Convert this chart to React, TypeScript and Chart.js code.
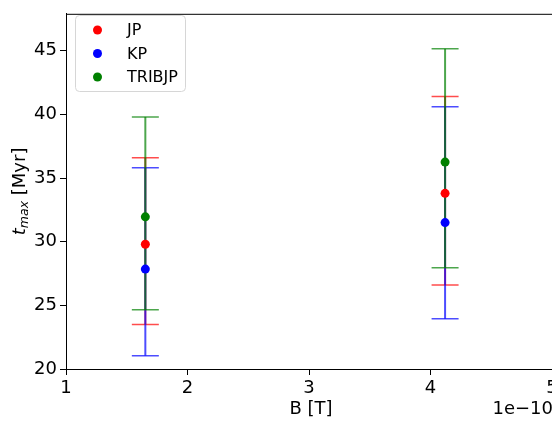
import React, { useEffect, useRef } from "react";
import { Chart, registerables } from "chart.js";

Chart.register(...registerables);

const seriesNames = ["JP", "KP", "TRIBJP"];
const seriesColors = ["rgb(255,0,0)", "rgb(0,0,255)", "rgb(0,128,0)"];
const barColors = ["rgba(255,0,0,0.7)", "rgba(0,0,255,0.7)", "rgba(0,128,0,0.7)"];
const bValues = [1.653e-10, 4.12e-10];
const jpValues = [29.8, 33.8];
const jpLow = [23.5, 26.6];
const jpHigh = [36.6, 41.4];
const kpValues = [27.85, 31.5];
const kpLow = [21.05, 23.95];
const kpHigh = [35.8, 40.6];
const tribValues = [31.95, 36.25];
const tribLow = [24.65, 27.95];
const tribHigh = [39.8, 45.15];
const xTicks = [1e-10, 2e-10, 3e-10, 4e-10, 5e-10];
const yTicks = [20, 25, 30, 35, 40, 45];

const allValues = [jpValues, kpValues, tribValues];
const allLow = [jpLow, kpLow, tribLow];
const allHigh = [jpHigh, kpHigh, tribHigh];

const FONT = "'DejaVu Sans', sans-serif";

export default function App() {
  const ref = useRef<HTMLCanvasElement | null>(null);
  useEffect(() => {
    if (!ref.current) return;
    const errorBars = {
      id: "errorBars",
      beforeDatasetsDraw(chart: any) {
        const ctx = chart.ctx;
        const xs = chart.scales.x;
        const ys = chart.scales.y;
        ctx.save();
        for (let i = 0; i < allValues.length; i++) {
          ctx.strokeStyle = barColors[i];
          for (let j = 0; j < bValues.length; j++) {
            const px = xs.getPixelForValue(bValues[j]);
            const lo = ys.getPixelForValue(allLow[i][j]);
            const hi = ys.getPixelForValue(allHigh[i][j]);
            ctx.lineWidth = 2;
            ctx.beginPath();
            ctx.moveTo(px, lo);
            ctx.lineTo(px, hi);
            ctx.stroke();
            ctx.lineWidth = 1.5;
            ctx.beginPath();
            ctx.moveTo(px - 13.5, lo);
            ctx.lineTo(px + 13.5, lo);
            ctx.moveTo(px - 13.5, hi);
            ctx.lineTo(px + 13.5, hi);
            ctx.stroke();
          }
        }
        ctx.restore();
      },
      afterDraw(chart: any) {
        const ctx = chart.ctx;
        const a = chart.chartArea;
        ctx.save();
        // frame
        ctx.strokeStyle = "#000";
        ctx.lineWidth = 1;
        ctx.strokeRect(a.left + 0.5, a.top + 0.5, a.right - a.left, a.bottom - a.top);
        // legend
        const lx = 75.5, ly = 15.5, lw = 110, lh = 76, r = 4;
        ctx.beginPath();
        ctx.moveTo(lx + r, ly);
        ctx.arcTo(lx + lw, ly, lx + lw, ly + lh, r);
        ctx.arcTo(lx + lw, ly + lh, lx, ly + lh, r);
        ctx.arcTo(lx, ly + lh, lx, ly, r);
        ctx.arcTo(lx, ly, lx + lw, ly, r);
        ctx.closePath();
        ctx.fillStyle = "rgba(255,255,255,0.8)";
        ctx.fill();
        ctx.strokeStyle = "#d6d6d6";
        ctx.stroke();
        const rows = [30, 53.5, 77];
        ctx.font = "16px " + FONT;
        ctx.textBaseline = "middle";
        ctx.textAlign = "left";
        for (let i = 0; i < seriesNames.length; i++) {
          ctx.fillStyle = seriesColors[i];
          ctx.beginPath();
          ctx.arc(97.5, rows[i], 4.5, 0, Math.PI * 2);
          ctx.fill();
          ctx.fillStyle = "#000";
          ctx.fillText(seriesNames[i], 127, rows[i] + 1);
        }
        // x title
        ctx.font = "18px " + FONT;
        ctx.textAlign = "center";
        ctx.textBaseline = "middle";
        ctx.fillText("B [T]", 311, 409);
        // offset text
        ctx.textAlign = "right";
        ctx.fillText("1e\u221210", 553, 409);
        // y title
        ctx.translate(19, (a.top + a.bottom) / 2);
        ctx.rotate(-Math.PI / 2);
        ctx.textBaseline = "alphabetic";
        ctx.textAlign = "left";
        const big = "italic 18px " + FONT;
        const small = "italic 12.5px " + FONT;
        const norm = "18px " + FONT;
        ctx.font = big;
        const w1 = ctx.measureText("t").width;
        ctx.font = small;
        const w2 = ctx.measureText("max").width;
        ctx.font = norm;
        const w3 = ctx.measureText(" [Myr]").width;
        let x0 = -(w1 + w2 + w3) / 2;
        const base = 6;
        ctx.font = big;
        ctx.fillText("t", x0, base);
        x0 += w1;
        ctx.font = small;
        ctx.fillText("max", x0, base + 3);
        x0 += w2;
        ctx.font = norm;
        ctx.fillText(" [Myr]", x0, base);
        ctx.restore();
      },
    };

    const chart = new Chart(ref.current, {
      type: "scatter",
      data: {
        datasets: seriesNames.map((name, i) => ({
          label: name,
          data: bValues.map((b, j) => ({ x: b, y: allValues[i][j] })),
          backgroundColor: seriesColors[i],
          borderColor: seriesColors[i],
          pointRadius: 4.5,
          pointBorderWidth: 0,
          pointHoverRadius: 4.5,
        })),
      },
      options: {
        animation: false,
        responsive: false,
        events: [],
        layout: { padding: { left: 0, right: 620 - 552, top: 7, bottom: 0 } },
        plugins: { legend: { display: false }, tooltip: { enabled: false } },
        scales: {
          x: {
            type: "linear",
            min: 1e-10,
            max: 5e-10,
            afterBuildTicks: (s: any) => {
              s.ticks = xTicks.map((v) => ({ value: v }));
            },
            afterFit: (s: any) => {
              s.height = 55;
            },
            ticks: {
              color: "#000",
              font: { family: FONT, size: 18 },
              padding: 3,
              maxRotation: 0,
              autoSkip: false,
              callback: (v: any) => String(Math.round(Number(v) / 1e-10)),
            },
            grid: {
              drawOnChartArea: false,
              drawTicks: true,
              tickLength: 6,
              tickColor: "#000",
            },
            border: { color: "#000", width: 1 },
          },
          y: {
            type: "linear",
            min: 20,
            max: 47.9,
            afterBuildTicks: (s: any) => {
              s.ticks = yTicks.map((v) => ({ value: v }));
            },
            afterFit: (s: any) => {
              s.width = 66;
            },
            ticks: {
              color: "#000",
              font: { family: FONT, size: 18 },
              padding: 3,
              autoSkip: false,
            },
            grid: {
              drawOnChartArea: false,
              drawTicks: true,
              tickLength: 6,
              tickColor: "#000",
            },
            border: { color: "#000", width: 1 },
          },
        },
      },
      plugins: [errorBars],
    });
    return () => chart.destroy();
  }, []);

  return (
    <div style={{ position: "absolute", left: 0, top: 0, width: 552, height: 424, overflow: "hidden", background: "#fff" }}>
      <canvas ref={ref} width={620} height={424} style={{ display: "block", width: 620, height: 424 }} />
    </div>
  );
}
